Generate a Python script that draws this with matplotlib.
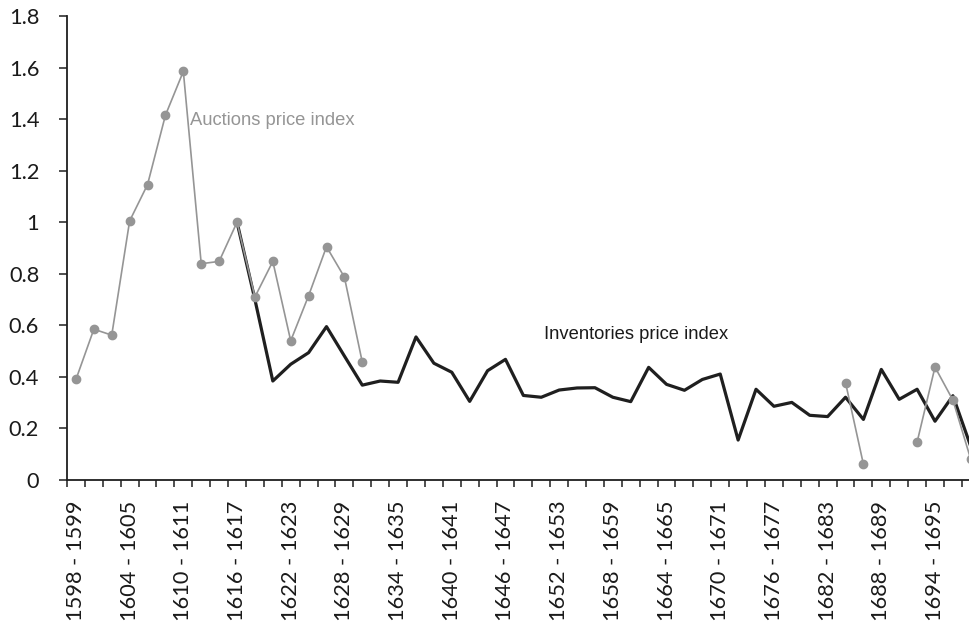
import numpy as np
import matplotlib
matplotlib.use("Agg")
import matplotlib.pyplot as plt

# two-year periods 1598-1599 ... 1698-1699
periods = ["%d - %d" % (y, y + 1) for y in range(1598, 1700, 2)]

nan = np.nan
auctions = [0.39, 0.585, 0.562, 1.005, 1.146, 1.415, 1.585, 0.839, 0.848, 1.0,
            0.71, 0.848, 0.54, 0.715, 0.905, 0.787, 0.457, nan, nan, nan,
            nan, nan, nan, nan, nan, nan, nan, nan, nan, nan,
            nan, nan, nan, nan, nan, nan, nan, nan, nan, nan,
            nan, nan, nan, 0.378, 0.061, nan, nan, 0.147, 0.438, 0.31,
            0.08]

inventories = [nan, nan, nan, nan, nan, nan, nan, nan, nan, 1.0,
               0.70, 0.384, 0.449, 0.494, 0.595, 0.481, 0.368, 0.384, 0.379, 0.555,
               0.453, 0.418, 0.305, 0.424, 0.468, 0.328, 0.321, 0.349, 0.357, 0.358,
               0.321, 0.304, 0.437, 0.371, 0.348, 0.39, 0.411, 0.155, 0.352, 0.286,
               0.301, 0.251, 0.246, 0.321, 0.235, 0.429, 0.313, 0.352, 0.228, 0.327,
               0.13]

x = np.arange(len(periods))

fig = plt.figure(figsize=(9.69, 6.26), dpi=100)
ax = fig.add_axes([67 / 969, 1 - 480 / 626, 1 - 67 / 969, (480 - 16) / 626])

ax.plot(x, auctions, color="#959595", lw=1.2, marker="o", ms=6, mec="#959595",
        mfc="#959595", zorder=3, clip_on=False)
ax.plot(x, inventories, color="#1f1f1f", lw=2.3, zorder=2)

ax.set_xlim(-0.5, 49.9)
ax.set_ylim(0, 1.8)
ax.set_yticks(np.arange(0, 1.81, 0.2))
ax.set_yticklabels(["0", "0.2", "0.4", "0.6", "0.8", "1", "1.2", "1.4", "1.6", "1.8"],
                   fontfamily="Lato", fontsize=15.7, color="#1a1a1a")

# tick marks at the period boundaries, labels every third period
ax.set_xticks(np.arange(-0.5, 50, 1))
ax.set_xticklabels([])
ax.set_xticks(x[::3], [periods[i] for i in x[::3]], minor=True)
for lab in ax.get_xticklabels(minor=True):
    lab.set_rotation(90)
    lab.set_fontfamily("Lato")
    lab.set_fontsize(15.7)
    lab.set_color("#1a1a1a")
ax.tick_params(axis="x", which="major", length=5, width=1.1, color="#1f1f1f")
ax.tick_params(axis="x", which="minor", length=0, pad=15)
ax.tick_params(axis="y", length=6, width=1.1, color="#1f1f1f", pad=14)

for s in ["top", "right"]:
    ax.spines[s].set_visible(False)
for s in ["left", "bottom"]:
    ax.spines[s].set_linewidth(1.3)
    ax.spines[s].set_color("#1f1f1f")

ax.text(6.35, 1.396, "Auctions price index", color="#959595", fontsize=13.2,
        fontfamily="Liberation Sans", va="center")
ax.text(26.15, 0.566, "Inventories price index", color="#1a1a1a", fontsize=13.2,
        fontfamily="Liberation Sans", va="center")

fig.savefig("out.png", dpi=100)
